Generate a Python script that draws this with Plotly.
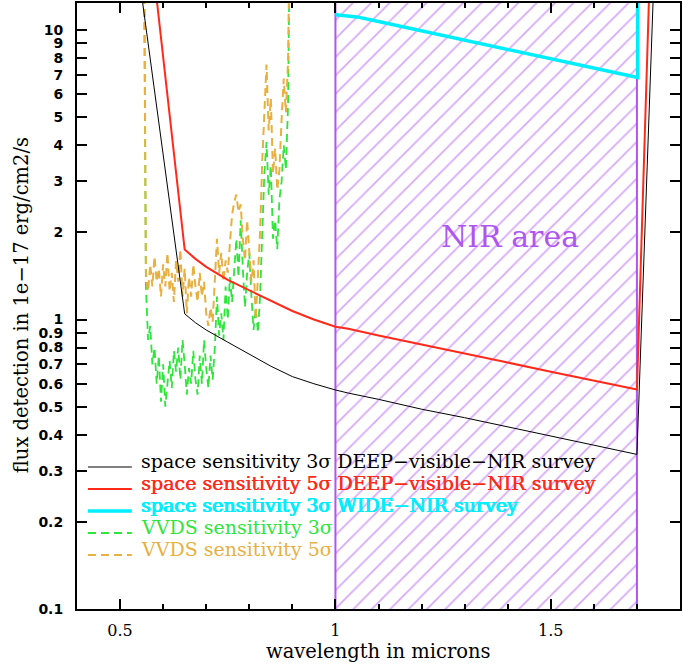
import plotly.graph_objects as go

# ---------------- data ----------------
black_x = [0.55, 0.65, 0.675, 0.70, 0.75, 0.80, 0.85, 0.90, 0.95, 1.00, 1.03,
           1.10, 1.20, 1.30, 1.40, 1.50, 1.60, 1.70, 1.74]
black_y = [13.2, 1.046, 0.975, 0.92, 0.835, 0.76, 0.69, 0.635, 0.60, 0.571, 0.557,
           0.53, 0.49, 0.458, 0.425, 0.396, 0.368, 0.342, 16.0]

red_x = [0.58, 0.65, 0.675, 0.70, 0.75, 0.80, 0.85, 0.90, 0.95, 1.00, 1.03,
         1.10, 1.20, 1.30, 1.40, 1.50, 1.60, 1.70, 1.73]
red_y = [14.9, 1.745, 1.62, 1.52, 1.37, 1.26, 1.16, 1.07, 1.00, 0.944, 0.929,
         0.88, 0.82, 0.765, 0.71, 0.66, 0.615, 0.573, 16.0]

cyan_x = [1.0, 1.05, 1.1, 1.2, 1.3, 1.4, 1.5, 1.6, 1.702, 1.702]
cyan_y = [11.3, 11.1, 10.7, 9.94, 9.23, 8.57, 7.95, 7.39, 6.85, 20.0]

vvds_x = [0.555, 0.560, 0.565, 0.570, 0.575, 0.580, 0.585, 0.590, 0.595, 0.600,
          0.605, 0.610, 0.615, 0.620, 0.625, 0.630, 0.635, 0.640, 0.645, 0.650,
          0.655, 0.660, 0.665, 0.670, 0.675, 0.680, 0.685, 0.690, 0.695, 0.700,
          0.705, 0.710, 0.715, 0.720, 0.725, 0.730, 0.735, 0.740, 0.745, 0.750,
          0.755, 0.760, 0.765, 0.770, 0.775, 0.780, 0.785, 0.790, 0.795, 0.800,
          0.805, 0.810, 0.815, 0.820, 0.825, 0.830, 0.835, 0.840, 0.845, 0.850,
          0.855, 0.860, 0.865, 0.870, 0.875, 0.880, 0.885, 0.890, 0.895]
vvds5_y = [30.0, 1.45, 1.25, 1.55, 1.30, 1.65, 1.35, 1.50, 1.20, 1.55,
           1.30, 1.70, 1.25, 1.45, 1.15, 1.60, 1.35, 1.75, 1.20, 1.50,
           1.05, 1.40, 1.20, 1.55, 1.30, 1.15, 1.45, 1.20, 1.35, 1.05,
           0.95, 1.10, 0.98, 1.30, 1.90, 1.45, 1.70, 1.35, 1.60, 1.45,
           1.90, 2.30, 2.55, 2.70, 2.35, 2.50, 1.90, 1.60, 2.20, 1.75,
           1.35, 1.60, 1.00, 1.40, 2.00, 3.50, 5.20, 7.60, 4.50, 5.80,
           3.20, 3.90, 2.80, 3.30, 4.90, 6.80, 5.20, 7.80, 30.0]
vvds3_y = [30.0, 1.30, 0.85, 0.95, 0.70, 0.80, 0.60, 0.75, 0.52, 0.70,
           0.50, 0.62, 0.72, 0.58, 0.78, 0.66, 0.80, 0.62, 0.85, 0.70,
           0.55, 0.68, 0.60, 0.78, 0.62, 0.55, 0.75, 0.60, 0.85, 0.68,
           0.58, 0.75, 0.62, 0.80, 1.20, 0.88, 1.05, 0.85, 1.30, 1.00,
           1.40, 1.15, 1.55, 1.90, 1.40, 2.20, 1.50, 1.10, 1.45, 1.70,
           1.20, 0.92, 1.10, 0.90, 1.20, 2.10, 3.20, 4.10, 2.70, 3.40,
           1.90, 2.20, 1.75, 2.60, 3.00, 4.00, 3.30, 5.50, 30.0]

nir_x = [1.0, 1.0, 1.7, 1.7, 1.0]
nir_y = [0.05, 30.0, 30.0, 0.05, 0.05]

ytick_vals = [0.1, 0.2, 0.3, 0.4, 0.5, 0.6, 0.7, 0.8, 0.9,
              1, 2, 3, 4, 5, 6, 7, 8, 9, 10]
ytick_text = ["0.1", "0.2", "0.3", "0.4", "0.5", "0.6", "0.7", "0.8", "0.9",
              "1", "2", "3", "4", "5", "6", "7", "8", "9", "10"]

legend_names = ["space sensitivity 3σ DEEP−visible−NIR survey",
                "space sensitivity 5σ DEEP−visible−NIR survey",
                "space sensitivity 3σ WIDE−NIR survey",
                "VVDS sensitivity 3σ",
                "VVDS sensitivity 5σ"]

# ---------------- style ----------------
W, H = 682, 664
ML, MR, MT, MB = 77, 0, 3, 55
PW, PH = W - ML - MR, H - MT - MB
PURPLE = "#b055f2"
BLACK = "#000000"
RED = "#ff2a1a"
CYAN = "#00eeff"
GREEN = "#2ee63a"
ORANGE = "#e8b040"
SERIF = "DejaVu Serif"


def px2paper_x(px):
    return (px - ML) / PW


def px2paper_y(py):
    return (H - MB - py) / PH


fig = go.Figure()

# NIR hatched area
fig.add_trace(go.Scatter(
    x=nir_x, y=nir_y, mode="lines", fill="toself",
    line=dict(color=PURPLE, width=2),
    fillcolor="rgba(0,0,0,0)",
    fillpattern=dict(shape="/", fgcolor=PURPLE, bgcolor="rgba(0,0,0,0)",
                     size=13, solidity=0.14),
    hoverinfo="skip", showlegend=False))

fig.add_trace(go.Scatter(x=vvds_x, y=vvds3_y, mode="lines",
                         line=dict(color=GREEN, width=1.8, dash="8px,5px"),
                         showlegend=False))
fig.add_trace(go.Scatter(x=vvds_x, y=vvds5_y, mode="lines",
                         line=dict(color=ORANGE, width=2, dash="8px,5px"),
                         showlegend=False))
fig.add_trace(go.Scatter(x=black_x, y=black_y, mode="lines",
                         line=dict(color=BLACK, width=1), showlegend=False))
fig.add_trace(go.Scatter(x=red_x, y=red_y, mode="lines",
                         line=dict(color=RED, width=2), showlegend=False))
fig.add_trace(go.Scatter(x=cyan_x, y=cyan_y, mode="lines",
                         line=dict(color=CYAN, width=3.5), showlegend=False))

# manual legend
leg_colors = [BLACK, RED, CYAN, GREEN, ORANGE]
leg_widths = [1, 2, 3.5, 1.8, 2]
leg_dash = ["solid", "solid", "solid", "8px,5px", "8px,5px"]
leg_shadow = ["none", "0.5px 0 0 " + RED, "0.8px 0 0 " + CYAN + ", -0.4px 0 0 " + CYAN,
              "none", "none"]
leg_text_y = [461, 483, 505, 527, 549]
leg_line_y = [467, 489, 511, 533, 555]
shapes = []
annotations = []
for i in range(5):
    shapes.append(dict(type="line", xref="paper", yref="paper",
                       x0=px2paper_x(88), x1=px2paper_x(132),
                       y0=px2paper_y(leg_line_y[i]), y1=px2paper_y(leg_line_y[i]),
                       line=dict(color=leg_colors[i], width=leg_widths[i],
                                 dash=leg_dash[i])))
    annotations.append(dict(xref="paper", yref="paper",
                            x=px2paper_x(139), y=px2paper_y(leg_text_y[i]),
                            xanchor="left", yanchor="middle", showarrow=False,
                            text=legend_names[i],
                            font=dict(family=SERIF, size=19, color=leg_colors[i],
                                      shadow=leg_shadow[i])))

annotations.append(dict(x=1.405, y=0.288, xref="x", yref="y", text="NIR area",
                        showarrow=False,
                        font=dict(family=SERIF, size=30, color=PURPLE)))
annotations.append(dict(xref="paper", yref="paper", x=px2paper_x(380),
                        y=px2paper_y(651), text="wavelength in microns",
                        showarrow=False, xanchor="center", yanchor="middle",
                        font=dict(family=SERIF, size=19.5, color=BLACK)))
annotations.append(dict(xref="paper", yref="paper", x=px2paper_x(21),
                        y=px2paper_y(305), text="flux detection in 1e−17 erg/cm2/s",
                        textangle=-90, showarrow=False, xanchor="center",
                        yanchor="middle",
                        font=dict(family=SERIF, size=19.5, color=BLACK)))

fig.update_layout(
    width=W, height=H,
    margin=dict(l=ML, r=MR, t=MT, b=MB, pad=0),
    paper_bgcolor="white", plot_bgcolor="white",
    shapes=shapes, annotations=annotations,
    showlegend=False,
    xaxis=dict(range=[0.4, 1.8], tickmode="linear", tick0=0, dtick=0.5,
               ticks="inside", ticklen=10, tickwidth=1.5, tickcolor=BLACK,
               showline=True, linewidth=2, linecolor=BLACK, mirror="ticks",
               showgrid=False, zeroline=False,
               minor=dict(tickmode="linear", tick0=0, dtick=0.1, ticks="inside",
                          ticklen=5, tickwidth=1.5, tickcolor=BLACK, showgrid=False),
               tickfont=dict(family=SERIF, size=16, color=BLACK),
               ticklabelstandoff=6),
    yaxis=dict(type="log", range=[-1, 1.0933], tickmode="array",
               tickvals=ytick_vals, ticktext=ytick_text,
               ticks="inside", ticklen=10, tickwidth=1.5, tickcolor=BLACK,
               showline=True, linewidth=2, linecolor=BLACK, mirror="ticks",
               showgrid=False, zeroline=False,
               tickfont=dict(family="DejaVu Sans", size=14, color=BLACK,
                             weight="bold"),
               ticklabelstandoff=9),
)

fig.write_html("out.html")
